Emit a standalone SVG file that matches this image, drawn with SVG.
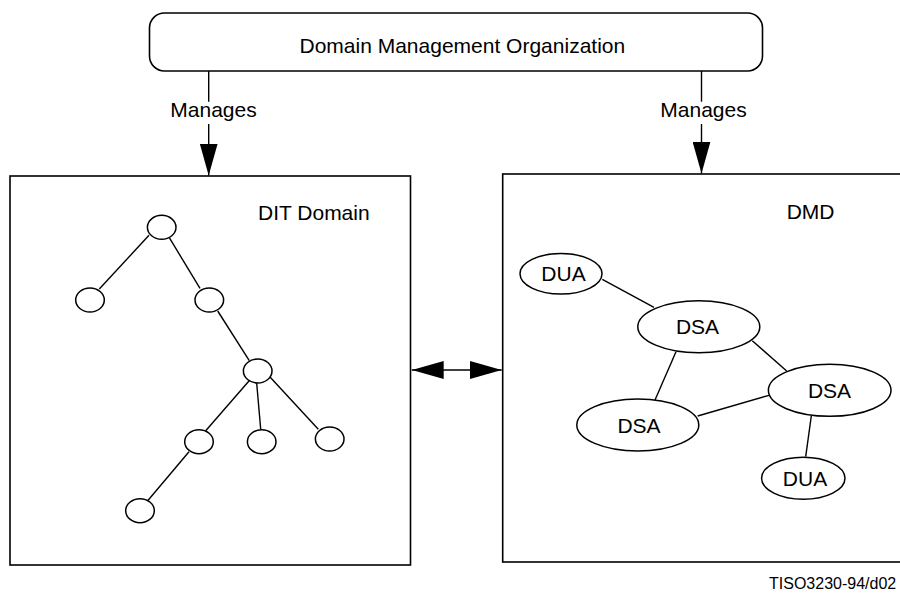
<svg xmlns="http://www.w3.org/2000/svg" width="900" height="593" viewBox="0 0 900 593">
<style>
  text { font-family: "Liberation Sans", Arial, sans-serif; font-size: 21px; fill: #000; }
  .box { fill: #fff; stroke: #000; stroke-width: 1.6; }
  .node { fill: #fff; stroke: #000; stroke-width: 1.5; }
  .edge { stroke: #000; stroke-width: 1.4; fill: none; }
  .mid { text-anchor: middle; }
</style>
<defs>
  <marker id="arr" markerUnits="userSpaceOnUse" markerWidth="32" markerHeight="18" refX="32" refY="9" viewBox="0 0 32 18" orient="auto">
    <path d="M0,0 L32,9 L0,18 Z" fill="#000"/>
  </marker>
</defs>
<g id="dmo">
  <rect class="box" x="149.5" y="13" width="613" height="58" rx="15" ry="15"/>
  <text x="299.5" y="53">Domain Management Organization</text>
</g>
<g id="dit-domain">
  <rect class="box" x="10" y="176" width="400.5" height="389"/>
  <text x="258" y="220">DIT Domain</text>
</g>
<g id="dmd">
  <rect class="box" x="502.7" y="174" width="420" height="388"/>
  <text x="786.7" y="219">DMD</text>
</g>
<g id="connectors">
  <line class="edge" x1="208.7" y1="71" x2="208.7" y2="101.7"/>
  <line class="edge" x1="208.7" y1="124" x2="208.7" y2="175.5" marker-end="url(#arr)"/>
  <text class="mid" x="213.5" y="117.3">Manages</text>
  <line class="edge" x1="701.5" y1="71" x2="701.5" y2="101.7"/>
  <line class="edge" x1="701.5" y1="124" x2="701.5" y2="173.5" marker-end="url(#arr)"/>
  <text class="mid" x="703.5" y="117.3">Manages</text>
  <line class="edge" x1="455" y1="370" x2="411.7" y2="370" marker-end="url(#arr)"/>
  <line class="edge" x1="455" y1="370" x2="501.7" y2="370" marker-end="url(#arr)"/>
  <line class="edge" x1="149" y1="235.3" x2="99.3" y2="289"/>
  <line class="edge" x1="169.3" y1="237.7" x2="200" y2="288.3"/>
  <line class="edge" x1="217.7" y1="311" x2="249.3" y2="360.7"/>
  <line class="edge" x1="250.7" y1="379" x2="205.7" y2="430.7"/>
  <line class="edge" x1="256.7" y1="383.3" x2="260.7" y2="429.3"/>
  <line class="edge" x1="270" y1="377" x2="318.3" y2="429.3"/>
  <line class="edge" x1="189" y1="451.7" x2="147.7" y2="500.7"/>
  <line class="edge" x1="602.3" y1="279.3" x2="654" y2="307.3"/>
  <line class="edge" x1="752.3" y1="340.7" x2="786.7" y2="371"/>
  <line class="edge" x1="676" y1="351.7" x2="655" y2="400"/>
  <line class="edge" x1="697.7" y1="416" x2="769" y2="395.3"/>
  <line class="edge" x1="811.3" y1="416" x2="805.7" y2="456.7"/>
</g>
<g id="t-root"><ellipse class="node" cx="161.7" cy="227.3" rx="14.3" ry="12"/></g>
<g id="t-left"><ellipse class="node" cx="90" cy="300" rx="14.3" ry="12"/></g>
<g id="t-right"><ellipse class="node" cx="209.3" cy="300" rx="14.3" ry="12"/></g>
<g id="t-mid"><ellipse class="node" cx="257.7" cy="371" rx="14.3" ry="12"/></g>
<g id="t-c1"><ellipse class="node" cx="199" cy="441.7" rx="14.3" ry="12"/></g>
<g id="t-c2"><ellipse class="node" cx="261.7" cy="441.7" rx="14.3" ry="12"/></g>
<g id="t-c3"><ellipse class="node" cx="329.7" cy="439" rx="14.3" ry="12"/></g>
<g id="t-bottom"><ellipse class="node" cx="140" cy="510.7" rx="14.3" ry="12"/></g>
<g id="dua1"><ellipse class="node" cx="561" cy="273.7" rx="41" ry="20.3"/><text class="mid" x="563.5" y="281.3">DUA</text></g>
<g id="dsa1"><ellipse class="node" cx="698.8" cy="326.8" rx="61" ry="26"/><text class="mid" x="697.5" y="334.3">DSA</text></g>
<g id="dsa2"><ellipse class="node" cx="829.7" cy="390.3" rx="61.3" ry="26"/><text class="mid" x="829.5" y="397.8">DSA</text></g>
<g id="dsa3"><ellipse class="node" cx="637.8" cy="425" rx="61" ry="26"/><text class="mid" x="639" y="432.5">DSA</text></g>
<g id="dua2"><ellipse class="node" cx="803.3" cy="478.3" rx="41.7" ry="21"/><text class="mid" x="805" y="486">DUA</text></g>
<text x="769" y="589.3" style="font-size:16px">TISO3230-94/d02</text>
</svg>
